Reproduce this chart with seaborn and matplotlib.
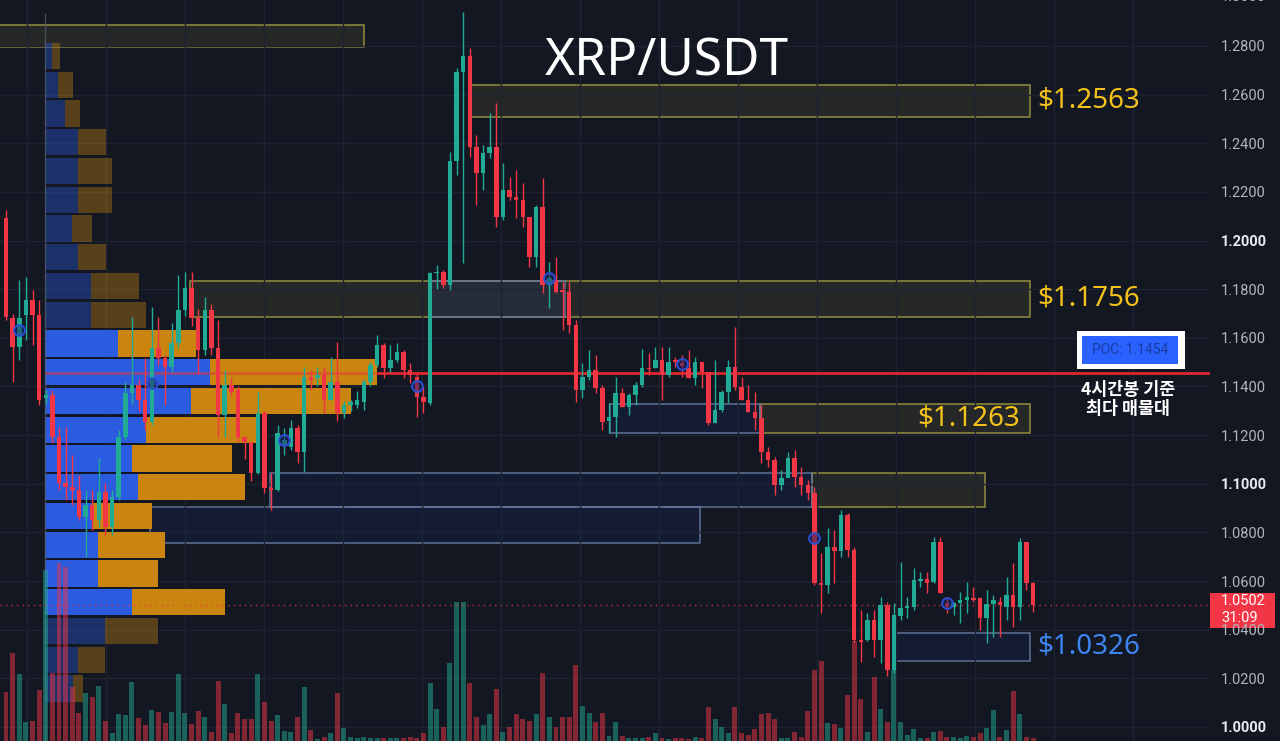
import numpy as np
import pandas as pd
import matplotlib
matplotlib.use("Agg")
import matplotlib.pyplot as plt
import matplotlib.transforms as mtransforms
from matplotlib.patches import Rectangle
import seaborn as sns

# ---------------- data (XRP/USDT, 4h candles) ----------------
opens = [1.2093, 1.1682, 1.1563, 1.1694, 1.1756, 1.1694, 1.1353, 1.1366, 1.1193, 1.1004,
         1.0987, 1.0975, 1.0864, 1.0913, 1.0852, 1.0967, 1.0823, 1.0946, 1.1193, 1.1374,
         1.1407, 1.1345, 1.1255, 1.1559, 1.1518, 1.1481, 1.1579, 1.1715, 1.1805, 1.1682,
         1.1550, 1.1715, 1.1559, 1.1283, 1.1407, 1.1386, 1.1193, 1.1172, 1.1045, 1.1292,
         1.0983, 1.0975, 1.1160, 1.1152, 1.1230, 1.1131, 1.1440, 1.1435, 1.1448, 1.1345,
         1.1419, 1.1292, 1.1324, 1.1324, 1.1337, 1.1419, 1.1489, 1.1571, 1.1477, 1.1509,
         1.1542, 1.1468, 1.1440, 1.1357, 1.1333, 1.1867, 1.1871, 1.1818, 1.2327, 1.2693,
         1.2759, 1.2385, 1.2278, 1.2360, 1.2385, 1.2097, 1.2208, 1.2179, 1.2167, 1.2097,
         1.1933, 1.2138, 1.1818, 1.1838, 1.1797, 1.1789, 1.1653, 1.1386, 1.1440, 1.1468,
         1.1394, 1.1259, 1.1275, 1.1374, 1.1316, 1.1366, 1.1407, 1.1477, 1.1477, 1.1509,
         1.1448, 1.1509, 1.1497, 1.1477, 1.1435, 1.1501, 1.1460, 1.1250, 1.1304, 1.1378,
         1.1481, 1.1398, 1.1345, 1.1296, 1.1271, 1.1131, 1.1098, 1.0996, 1.1024, 1.1107,
         1.1029, 1.0996, 1.0963, 1.0593, 1.0585, 1.0741, 1.0724, 1.0872, 1.0728, 1.0359,
         1.0359, 1.0441, 1.0359, 1.0502, 1.0235, 1.0457, 1.0490, 1.0494, 1.0601, 1.0609,
         1.0597, 1.0761, 1.0511, 1.0494, 1.0511, 1.0523, 1.0531, 1.0531, 1.0449, 1.0507,
         1.0515, 1.0494, 1.0544, 1.0494, 1.0761, 1.0593]
closes = [1.1686, 1.1563, 1.1682, 1.1756, 1.1694, 1.1345, 1.1366, 1.1193, 1.1004, 1.0987,
          1.0975, 1.0864, 1.0913, 1.0852, 1.0967, 1.0823, 1.0946, 1.1193, 1.1374, 1.1407,
          1.1345, 1.1255, 1.1559, 1.1518, 1.1481, 1.1579, 1.1715, 1.1805, 1.1682, 1.1550,
          1.1715, 1.1559, 1.1283, 1.1407, 1.1378, 1.1193, 1.1172, 1.1045, 1.1292, 1.0983,
          1.0975, 1.1209, 1.1181, 1.1230, 1.1131, 1.1440, 1.1427, 1.1448, 1.1345, 1.1419,
          1.1292, 1.1324, 1.1337, 1.1345, 1.1419, 1.1489, 1.1571, 1.1477, 1.1509, 1.1542,
          1.1468, 1.1448, 1.1357, 1.1337, 1.1867, 1.1871, 1.1818, 1.2327, 1.2693, 1.2759,
          1.2385, 1.2278, 1.2360, 1.2385, 1.2097, 1.2208, 1.2179, 1.2167, 1.2097, 1.1933,
          1.2138, 1.1818, 1.1846, 1.1789, 1.1789, 1.1653, 1.1386, 1.1440, 1.1468, 1.1394,
          1.1255, 1.1275, 1.1374, 1.1316, 1.1366, 1.1407, 1.1477, 1.1472, 1.1509, 1.1448,
          1.1501, 1.1501, 1.1485, 1.1435, 1.1501, 1.1460, 1.1250, 1.1304, 1.1378, 1.1481,
          1.1398, 1.1345, 1.1296, 1.1271, 1.1131, 1.1098, 1.0996, 1.1024, 1.1107, 1.1029,
          1.0996, 1.0963, 1.0593, 1.0585, 1.0741, 1.0724, 1.0872, 1.0728, 1.0359, 1.0350,
          1.0441, 1.0359, 1.0502, 1.0235, 1.0461, 1.0490, 1.0498, 1.0605, 1.0609, 1.0593,
          1.0761, 1.0552, 1.0494, 1.0511, 1.0523, 1.0535, 1.0523, 1.0449, 1.0507, 1.0523,
          1.0502, 1.0544, 1.0494, 1.0761, 1.0593, 1.0502]
highs = [1.2126, 1.1700, 1.1838, 1.1850, 1.1797, 1.1756, 1.1386, 1.1386, 1.1234, 1.1234,
         1.1119, 1.1037, 1.0975, 1.0975, 1.1107, 1.1004, 1.0975, 1.1222, 1.1419, 1.1686,
         1.1430, 1.1518, 1.1727, 1.1686, 1.1530, 1.1661, 1.1859, 1.1871, 1.1871, 1.1720,
         1.1768, 1.1740, 1.1674, 1.1468, 1.1440, 1.1400, 1.1193, 1.1172, 1.1378, 1.1300,
         1.1045, 1.1242, 1.1230, 1.1263, 1.1240, 1.1480, 1.1468, 1.1480, 1.1480, 1.1522,
         1.1583, 1.1340, 1.1345, 1.1380, 1.1430, 1.1500, 1.1612, 1.1580, 1.1571, 1.1579,
         1.1550, 1.1497, 1.1450, 1.1398, 1.1870, 1.1900, 1.1880, 1.2364, 1.2709, 1.2940,
         1.2792, 1.2434, 1.2393, 1.2524, 1.2566, 1.2319, 1.2260, 1.2290, 1.2237, 1.2097,
         1.2146, 1.2257, 1.1912, 1.1933, 1.1830, 1.1830, 1.1673, 1.1497, 1.1550, 1.1530,
         1.1407, 1.1333, 1.1440, 1.1394, 1.1374, 1.1419, 1.1555, 1.1538, 1.1563, 1.1563,
         1.1563, 1.1522, 1.1530, 1.1550, 1.1522, 1.1501, 1.1460, 1.1509, 1.1386, 1.1509,
         1.1645, 1.1440, 1.1407, 1.1378, 1.1324, 1.1152, 1.1111, 1.1057, 1.1131, 1.1140,
         1.1070, 1.1016, 1.0985, 1.0716, 1.0818, 1.0810, 1.0893, 1.0880, 1.0741, 1.0482,
         1.0470, 1.0482, 1.0535, 1.0515, 1.0511, 1.0679, 1.0535, 1.0654, 1.0638, 1.0638,
         1.0782, 1.0782, 1.0535, 1.0515, 1.0555, 1.0597, 1.0576, 1.0535, 1.0564, 1.0544,
         1.0535, 1.0617, 1.0674, 1.0777, 1.0761, 1.0597]
lows = [1.1674, 1.1419, 1.1509, 1.1592, 1.1571, 1.1324, 1.1330, 1.1168, 1.0975, 1.0934,
        1.0913, 1.0852, 1.0700, 1.0811, 1.0823, 1.0790, 1.0790, 1.0934, 1.1181, 1.1330,
        1.1300, 1.1222, 1.1240, 1.1490, 1.1324, 1.1460, 1.1560, 1.1690, 1.1650, 1.1456,
        1.1530, 1.1530, 1.1193, 1.1193, 1.1360, 1.1170, 1.1100, 1.1010, 1.1040, 1.0963,
        1.0893, 1.0970, 1.1119, 1.1140, 1.1086, 1.1049, 1.1386, 1.1400, 1.1292, 1.1345,
        1.1260, 1.1270, 1.1300, 1.1310, 1.1304, 1.1400, 1.1480, 1.1435, 1.1460, 1.1500,
        1.1435, 1.1415, 1.1275, 1.1292, 1.1324, 1.1800, 1.1805, 1.1797, 1.2270, 1.1908,
        1.2344, 1.2146, 1.2208, 1.2340, 1.2056, 1.2085, 1.2167, 1.2093, 1.2056, 1.1892,
        1.1892, 1.1785, 1.1723, 1.1785, 1.1633, 1.1620, 1.1337, 1.1353, 1.1427, 1.1374,
        1.1222, 1.1209, 1.1193, 1.1316, 1.1283, 1.1324, 1.1398, 1.1448, 1.1477, 1.1345,
        1.1440, 1.1481, 1.1440, 1.1435, 1.1407, 1.1394, 1.1242, 1.1250, 1.1296, 1.1333,
        1.1386, 1.1345, 1.1296, 1.1222, 1.1086, 1.1070, 1.0954, 1.0975, 1.1065, 1.0987,
        1.0954, 1.0934, 1.0585, 1.0470, 1.0552, 1.0593, 1.0700, 1.0700, 1.0350, 1.0268,
        1.0355, 1.0289, 1.0264, 1.0210, 1.0220, 1.0441, 1.0449, 1.0482, 1.0576, 1.0552,
        1.0593, 1.0552, 1.0470, 1.0461, 1.0428, 1.0470, 1.0515, 1.0400, 1.0346, 1.0371,
        1.0371, 1.0441, 1.0412, 1.0441, 1.0564, 1.0474]
volumes = [49, 88, 67, 19, 20, 51, 171, 68, 178, 174,
           54, 28, 48, 44, 55, 20, 8, 27, 26, 59,
           23, 16, 31, 29, 18, 29, 67, 28, 17, 30,
           24, 9, 60, 37, 8, 28, 22, 22, 67, 39,
           20, 26, 10, 9, 24, 54, 11, 2, 4, 8,
           48, 13, 4, 3, 4, 3, 3, 3, 3, 3,
           3, 4, 3, 8, 58, 32, 14, 78, 139, 139,
           58, 24, 16, 27, 52, 9, 14, 27, 22, 20,
           27, 68, 24, 14, 24, 24, 76, 35, 28, 19,
           28, 5, 19, 5, 3, 3, 3, 4, 8, 3,
           2, 3, 3, 2, 4, 3, 34, 22, 14, 8,
           34, 8, 6, 12, 27, 28, 22, 3, 3, 9,
           4, 30, 71, 80, 18, 17, 13, 46, 100, 42,
           9, 64, 32, 19, 71, 19, 6, 12, 3, 3,
           9, 10, 4, 4, 3, 5, 4, 8, 13, 31,
           4, 11, 50, 27, 4, 3]

# volume profile (rows from top price bin to bottom)
profile_top = 1.2818
profile_step = 0.01182
profile_buy = [7, 13, 20, 33, 33, 33, 27, 33, 46, 46, 73, 165, 146, 101, 87, 93, 47, 53, 53, 87, 60, 33, 28]
profile_sell = [8, 15, 15, 28, 34, 34, 20, 28, 48, 55, 78, 167, 160, 110, 100, 107, 60, 67, 60, 93, 53, 27, 10]
value_area = (10, 19)

poc_price = 1.1454
last_price = 1.0502
countdown = "31:09"

# zones: start candle, end candle, top, bottom, kind
zone_start = [-2, 70, 27.8, 64, 113.8, 91.2, 121.6, 39.8, 21.7, 133.9]
zone_end = [54, 154.5, 154.5, 84.4, 154.5, 113.8, 147.8, 121.6, 104.7, 154.5]
zone_top = [1.2886, 1.2640, 1.1834, 1.1834, 1.1328, 1.1328, 1.1045, 1.1045, 1.0905, 1.0387]
zone_bottom = [1.2796, 1.2508, 1.1686, 1.1686, 1.1209, 1.1209, 1.0905, 1.0905, 1.0757, 1.0272]
zone_kind = ["supply", "supply", "supply", "demand", "supply", "demand", "supply", "demand", "demand", "demand"]

level_labels = ["$1.2563", "$1.1756", "$1.1263", "$1.0326"]
level_prices = [1.2574, 1.1760, 1.1268, 1.0330]
level_colors = ["#f5c21b", "#f5c21b", "#f5c21b", "#3d85f0"]
level_inside = [False, False, True, False]

marker_idx = [2, 22, 42, 62, 82, 102, 122, 142]
marker_price = [1.1633, 1.1415, 1.1181, 1.1403, 1.1846, 1.1493, 1.0778, 1.0511]

price_ticks = [1.00, 1.02, 1.04, 1.06, 1.08, 1.10, 1.12, 1.14, 1.16, 1.18, 1.20, 1.22, 1.24, 1.26, 1.28]
bold_ticks = ["1.0000", "1.1000", "1.2000"]

# ---------------- style ----------------
BG = "#131722"
UP, DOWN = "#22ab94", "#f23645"
GRID = "#1f2331"
sns.set_theme(style="dark", rc={"axes.facecolor": BG, "figure.facecolor": BG})
plt.rcParams["font.family"] = ["Roboto", "Noto Sans CJK KR", "DejaVu Sans"]

W, H = 1280, 741
fig = plt.figure(figsize=(W / 100, H / 100), dpi=100)
fig.patch.set_facecolor(BG)
pos = [0, 0, 1210 / W, 1]
YLIM = (0.99424, 1.29891)
XLIM = (-0.906, 181.7)

ax_bg = fig.add_axes(pos, zorder=0)
ax_prof = fig.add_axes(pos, zorder=1)
ax_vol = fig.add_axes(pos, zorder=2)
ax = fig.add_axes(pos, zorder=3)
ax_bg.set_facecolor(BG)
for a in (ax_prof, ax_vol, ax):
    a.set_facecolor("none")

df = pd.DataFrame(dict(open=opens, high=highs, low=lows, close=closes, volume=volumes))
df["idx"] = np.arange(len(df))
df["dir"] = np.where(df["close"] >= df["open"], "up", "down")

# ---- background: grid + zones ----
ax_bg.set_xlim(XLIM)
ax_bg.set_ylim(YLIM)
for t in price_ticks:
    ax_bg.axhline(t, color=GRID, lw=1)
for gx in np.arange(3.2, XLIM[1], 11.92):
    ax_bg.axvline(gx, color=GRID, lw=1)
for x0, x1, top, bot, kind in zip(zone_start, zone_end, zone_top, zone_bottom, zone_kind):
    if kind == "supply":
        fc, ec = (0.55, 0.54, 0.24, 0.15), (0.62, 0.60, 0.26, 0.9)
    else:
        fc, ec = (0.16, 0.38, 1.0, 0.08), (0.40, 0.48, 0.62, 0.9)
    ax_bg.add_patch(Rectangle((x0, bot), x1 - x0, top - bot, facecolor=fc, edgecolor=ec, lw=1.1))

# ---- volume profile ----
ax_prof.set_xlim(-45, 1165)
ax_prof.set_ylim(YLIM)
n_rows = len(profile_buy)
row_centers = profile_top - profile_step * (np.arange(n_rows) + 0.5)
blue, orange = np.array([0.17, 0.36, 0.88]), np.array([0.79, 0.52, 0.06])
for r in range(n_rows):
    a = 1.0 if value_area[0] <= r <= value_area[1] else 0.38
    ax_prof.barh(row_centers[r], profile_buy[r], height=profile_step * 0.91, left=0,
                 color=(*blue, a), lw=0)
    ax_prof.barh(row_centers[r], profile_sell[r], height=profile_step * 0.91, left=profile_buy[r],
                 color=(*orange, a), lw=0)
ax_prof.vlines(0, YLIM[0], 1.2936, color="#5a5e6a", lw=1, alpha=0.7)

# ---- volume bars (seaborn) ----
sns.barplot(data=df, x="idx", y="volume", hue="dir", palette={"up": UP, "down": DOWN},
            native_scale=True, dodge=False, legend=False, width=0.75, saturation=1,
            alpha=0.5, errorbar=None, ax=ax_vol, linewidth=0)
ax_vol.set_xlim(XLIM)
ax_vol.set_ylim(0, H)

# ---- candles ----
ax.set_xlim(XLIM)
ax.set_ylim(YLIM)
colors = np.where(df["dir"] == "up", UP, DOWN)
ax.hlines(poc_price, 5.9, 56, color="#e5383b", lw=2, alpha=0.55, zorder=1)
ax.hlines(poc_price, 56, XLIM[1], color="#e0262a", lw=2, zorder=1)
ax.axhline(last_price, color=DOWN, lw=1, ls=(0, (1, 3)), alpha=0.8, zorder=1)
ax.vlines(df["idx"], df["low"], df["high"], colors=colors, lw=1, zorder=2)
body_bot = np.minimum(df["open"], df["close"])
body_h = np.maximum(np.abs(df["close"] - df["open"]), 0.0005)
ax.bar(df["idx"], body_h, bottom=body_bot, width=0.68, color=colors, lw=0, zorder=3)
ax.scatter(marker_idx, marker_price, s=60, facecolors=(0.1, 0.15, 0.4, 0.5),
           edgecolors="#2a4fd6", linewidths=1.4, zorder=4)

# ---- level labels ----
for lab, p, c, inside in zip(level_labels, level_prices, level_colors, level_inside):
    if inside:
        ax.text(153.0, p, lab, color=c, fontsize=20, ha="right", va="center",
                family=["Noto Sans", "DejaVu Sans"], zorder=5)
    else:
        ax.text(155.6, p, lab, color=c, fontsize=20, ha="left", va="center",
                family=["Noto Sans", "DejaVu Sans"], zorder=5)

# ---- axes cosmetics ----
for a in (ax_bg, ax_prof, ax_vol, ax):
    for s in a.spines.values():
        s.set_visible(False)
    a.set_xticks([])
    a.set_xlabel("")
    a.set_ylabel("")
    a.grid(False)
for a in (ax_bg, ax_prof, ax_vol):
    a.set_yticks([])

ax.yaxis.tick_right()
ax.set_yticks(price_ticks)
ax.set_yticklabels([f"{t:.4f}" for t in price_ticks])
ax.tick_params(axis="y", length=0, pad=8, labelsize=10.5, labelcolor="#b2b5be")
for lab in ax.get_yticklabels():
    if lab.get_text() in bold_ticks:
        lab.set_fontweight("bold")
        lab.set_color("#e8e9ec")
trans = mtransforms.blended_transform_factory(ax.transAxes, ax.transData)
ax.text(1.0, 1.30, "1.3000", transform=trans + mtransforms.ScaledTranslation(8 / 72, 0, fig.dpi_scale_trans),
        fontsize=10.5, color="#b2b5be", ha="left", va="center", clip_on=False)

# ---- title ----
fig.text(667 / W, 1 - 62 / H, "XRP/USDT", ha="center", va="center", fontsize=37,
         color="white", family=["Noto Sans", "DejaVu Sans"])

# ---- last price box ----
ident = mtransforms.IdentityTransform()
y_last = ax.transData.transform((0, last_price))[1]
fig.patches.append(Rectangle((1210, y_last - 23), 65, 35, transform=ident,
                             facecolor=DOWN, edgecolor="none", figure=fig))
fig.text(1221 / W, (y_last + 4) / H, f"{last_price:.4f}", color="white", fontsize=10.5, va="center")
fig.text(1221 / W, (y_last - 13) / H, countdown, color="white", fontsize=10.5, va="center")

# ---- POC box ----
y_poc = ax.transData.transform((0, poc_price))[1]
fig.patches.append(Rectangle((1077, y_poc + 4), 108, 38, transform=ident,
                             facecolor="white", edgecolor="none", figure=fig, zorder=5))
fig.patches.append(Rectangle((1082, y_poc + 9), 96, 28, transform=ident,
                             facecolor="#2962ff", edgecolor="none", figure=fig, zorder=6))
fig.text(1130 / W, (y_poc + 23) / H, f"POC: {poc_price:.4f}", color="#1a3a9e", fontsize=10,
         ha="center", va="center", zorder=7)
fig.text(1128 / W, (y_poc - 8) / H, "4시간봉 기준\n최다 매물대", color="white", fontsize=12.5,
         ha="center", va="top", linespacing=1.05, fontweight="bold",
         family=["Noto Sans CJK KR", "DejaVu Sans"])

fig.savefig("out.png", dpi=100, facecolor=BG)
